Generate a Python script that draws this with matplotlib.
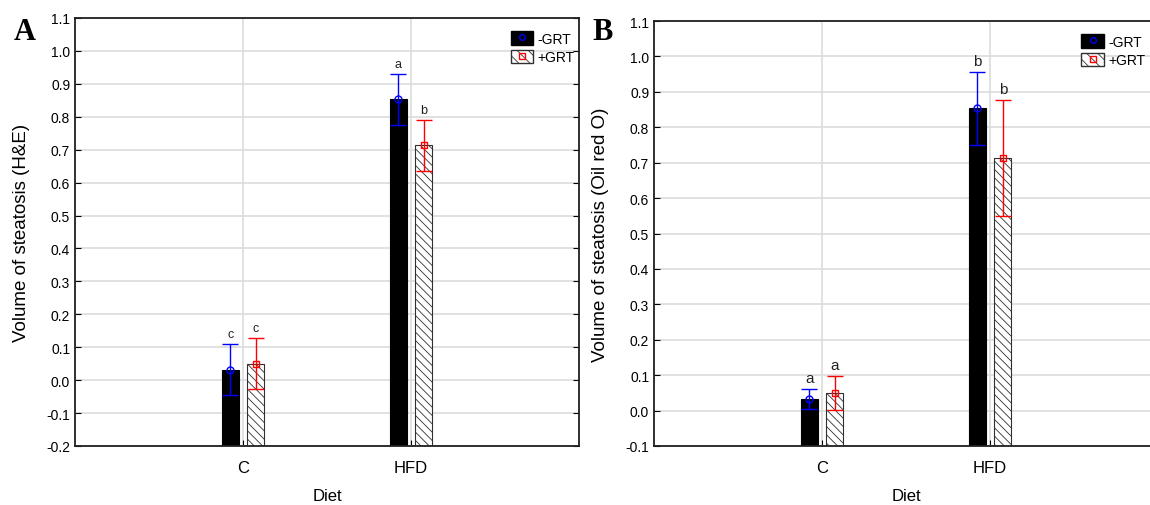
import numpy as np
import matplotlib
matplotlib.use("Agg")
import matplotlib.pyplot as plt
from matplotlib.patches import Patch
from matplotlib.lines import Line2D

plt.rcParams["font.family"] = ["Liberation Sans", "DejaVu Sans"]
plt.rcParams["hatch.linewidth"] = 0.6

# ---- data ----
diets = ["C", "HFD"]
groups = ["-GRT", "+GRT"]

# Panel A: H&E
he_minus = [0.032, 0.853]
he_minus_err = [0.077, 0.077]
he_plus = [0.050, 0.713]
he_plus_err = [0.077, 0.077]
he_letters_minus = ["c", "a"]
he_letters_plus = ["c", "b"]

# Panel B: Oil red O
oro_minus = [0.033, 0.853]
oro_minus_err = [0.028, 0.102]
oro_plus = [0.050, 0.713]
oro_plus_err = [0.048, 0.164]
oro_letters_minus = ["a", "b"]
oro_letters_plus = ["a", "b"]

W, H = 1150, 506
fig = plt.figure(figsize=(W / 100, H / 100), dpi=100)

BAR_W = 0.1
OFFSET = 0.076


def draw_panel(ax, minus, minus_err, plus, plus_err, let_m, let_p, ylim, ylabel,
               letter_size, legend_x=1.005):
    x = np.arange(len(diets))
    base = ylim[0]
    ax.set_axisbelow(True)
    ax.grid(True, color="#dcdcdc", linewidth=1.2)

    # bars start at the bottom of the axis, as in the original
    ax.bar(x - OFFSET, np.array(minus) - base, BAR_W, bottom=base, color="black",
           edgecolor="black", linewidth=0.8, zorder=2)
    ax.bar(x + OFFSET, np.array(plus) - base, BAR_W, bottom=base, color="white",
           edgecolor="#303030", linewidth=0.8, hatch="\\\\\\\\", zorder=2)

    ax.errorbar(x - OFFSET, minus, yerr=minus_err, fmt="o", mfc="none", mec="blue", ms=5,
                ecolor="blue", elinewidth=1, capsize=6, capthick=1, zorder=3)
    ax.errorbar(x + OFFSET, plus, yerr=plus_err, fmt="s", mfc="none", mec="red", ms=5,
                ecolor="red", elinewidth=1, capsize=6, capthick=1, zorder=3)

    for xi, m, e, t in zip(x - OFFSET, minus, minus_err, let_m):
        ax.text(xi, m + e + 0.012, t, ha="center", va="bottom", fontsize=letter_size, color="#222222")
    for xi, m, e, t in zip(x + OFFSET, plus, plus_err, let_p):
        ax.text(xi, m + e + 0.012, t, ha="center", va="bottom", fontsize=letter_size, color="#222222")

    ax.set_xlim(-1, 2)
    ax.set_xticks(x)
    ax.set_xticklabels(diets, fontsize=12)
    ax.set_ylim(*ylim)
    ax.set_yticks(np.round(np.arange(ylim[0], ylim[1] + 0.001, 0.1), 1))
    ax.yaxis.set_major_formatter(plt.FuncFormatter(lambda v, p: f"{v:.1f}"))
    ax.tick_params(axis="y", labelsize=10, direction="in", length=4, right=True)
    ax.tick_params(axis="x", direction="in", length=4, pad=10)
    for s in ax.spines.values():
        s.set_linewidth(1.3)
        s.set_color("#202020")

    ax.set_ylabel(ylabel, fontsize=13.5)
    ax.set_xlabel("Diet", fontsize=12)
    ax.yaxis.set_label_coords(-0.089, 0.5)
    ax.xaxis.set_label_coords(0.5, -0.098)

    handles = [
        (Patch(facecolor="black", edgecolor="black"),
         Line2D([], [], marker="o", ls="none", mfc="none", mec="blue", ms=4)),
        (Patch(facecolor="white", edgecolor="#303030", hatch="\\\\\\"),
         Line2D([], [], marker="s", ls="none", mfc="none", mec="red", ms=5)),
    ]
    ax.legend(handles, groups, loc="upper right", bbox_to_anchor=(legend_x, 0.985), frameon=False,
              fontsize=10, handlelength=1.6, handleheight=1.1, handletextpad=0.3,
              labelspacing=0.3, borderaxespad=0.1)


axA = fig.add_axes([75 / W, 59 / H, 504 / W, 428 / H])
draw_panel(axA, he_minus, he_minus_err, he_plus, he_plus_err,
           he_letters_minus, he_letters_plus, (-0.2, 1.1), "Volume of steatosis (H&E)", 9)

# panel B runs past the right edge of the image, as in the original
axB = fig.add_axes([654 / W, 59 / H, 504 / W, 425 / H])
draw_panel(axB, oro_minus, oro_minus_err, oro_plus, oro_plus_err,
           oro_letters_minus, oro_letters_plus, (-0.1, 1.1), "Volume of steatosis (Oil red O)", 11,
           legend_x=0.988)

fig.text(25 / W, 1 - 33 / H, "A", fontsize=22, fontweight="bold", family="Liberation Serif",
         ha="center", va="center")
fig.text(603 / W, 1 - 33 / H, "B", fontsize=22, fontweight="bold", family="Liberation Serif",
         ha="center", va="center")

fig.savefig("out.png", dpi=100)
